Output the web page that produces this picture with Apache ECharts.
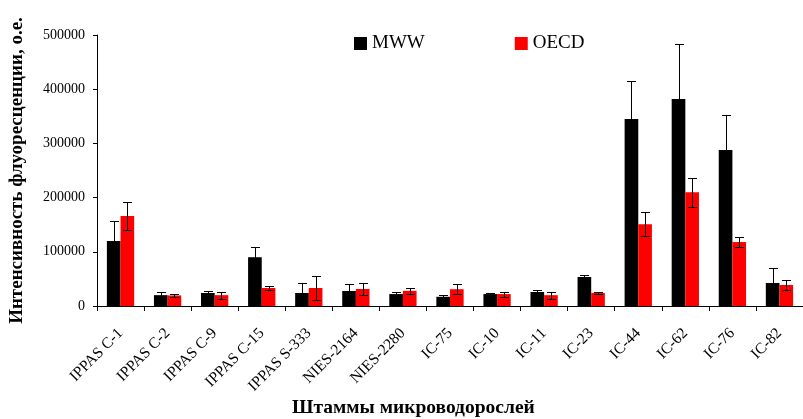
<!DOCTYPE html>
<html>
<head>
<meta charset="utf-8">
<script src="https://cdn.jsdelivr.net/npm/echarts@6/dist/echarts.min.js"></script>
<style>
  html, body { margin: 0; padding: 0; background: #fff; }
  #chart { width: 803px; height: 419px; }
</style>
</head>
<body>
<div id="chart"></div>
<script>
const categories = ['IPPAS C-1','IPPAS C-2','IPPAS C-9','IPPAS C-15','IPPAS S-333','NIES-2164','NIES-2280','IC-75','IC-10','IC-11','IC-23','IC-44','IC-62','IC-76','IC-82'];
const mwwValues = [120000, 20000, 24000, 90000, 24000, 27700, 22000, 17000, 22000, 25800, 53500, 345000, 382000, 288000, 42400];
const mwwErrors = [37000, 6000, 4500, 19000, 18500, 12500, 4000, 2500, 2000, 3000, 4000, 70000, 101000, 64500, 27000];
const oecdValues = [166000, 19500, 20000, 33200, 33200, 31400, 28000, 31000, 22000, 20000, 24000, 151000, 210000, 118000, 38700];
const oecdErrors = [25000, 2500, 6500, 4000, 22000, 11000, 5000, 9000, 4500, 6500, 2500, 22000, 27000, 9000, 10000];
const yTicks = [0, 100000, 200000, 300000, 400000, 500000];

const FONT = "'Liberation Serif', 'Times New Roman', serif";
const CAT_GAP = 0.42;

function errorRenderer(values, errors, side) {
  return function (params, api) {
    const i = api.value(0);
    const v = values[i], e = errors[i];
    const band = api.size([1, 0])[0];
    const barW = band * (1 - CAT_GAP) / 2;
    const c = api.coord([i, v]);
    const x = Math.round(c[0] + side * barW / 2) + 0.5;
    const top = Math.round(api.coord([i, v + e])[1]) + 0.5;
    const bot = Math.round(api.coord([i, v - e])[1]) + 0.5;
    const cap = 4.5;
    const style = { stroke: '#000', lineWidth: 1 };
    return {
      type: 'group',
      children: [
        { type: 'line', shape: { x1: x, y1: top, x2: x, y2: bot }, style },
        { type: 'line', shape: { x1: x - cap, y1: top, x2: x + cap, y2: top }, style },
        { type: 'line', shape: { x1: x - cap, y1: bot, x2: x + cap, y2: bot }, style }
      ]
    };
  };
}

const chart = echarts.init(document.getElementById('chart'));
chart.setOption({
  animation: false,
  backgroundColor: '#ffffff',
  textStyle: { fontFamily: FONT },
  legend: {
    left: 354, top: 34, padding: 0,
    itemWidth: 13, itemHeight: 13, itemGap: 90,
    icon: 'rect',
    data: ['MWW', 'OECD'],
    textStyle: { fontFamily: FONT, fontSize: 19, color: '#000' }
  },
  grid: { left: 97, right: -8, top: 35, bottom: 113, containLabel: false },
  xAxis: {
    type: 'category',
    data: categories,
    axisLine: { lineStyle: { color: '#000', width: 1 } },
    axisTick: { show: true, length: 5, lineStyle: { color: '#000' } },
    axisLabel: { interval: 0, rotate: 45, margin: 25, fontFamily: FONT, fontSize: 15.5, color: '#000' }
  },
  yAxis: {
    type: 'value',
    min: 0, max: 500000, interval: 100000,
    name: 'Интенсивность флуоресценции, о.е.',
    nameLocation: 'middle', nameGap: 70,
    nameTextStyle: { fontFamily: FONT, fontSize: 19, fontWeight: 'bold', color: '#000' },
    axisLine: { show: true, lineStyle: { color: '#000', width: 1 } },
    axisTick: { show: true, inside: false, length: 4, lineStyle: { color: '#000' } },
    splitLine: { show: false },
    axisLabel: { margin: 12, fontFamily: FONT, fontSize: 14, color: '#000',
      formatter: v => yTicks.includes(v) ? String(v) : '' }
  },
  graphic: [{
    type: 'text', left: 292, top: 398,
    style: { text: 'Штаммы микроводорослей', fontFamily: FONT, fontSize: 19.5, fontWeight: 'bold', fill: '#000' }
  }],
  series: [
    { name: 'MWW', type: 'bar', data: mwwValues, barGap: '0%', barCategoryGap: '42%', itemStyle: { color: '#000000' } },
    { name: 'OECD', type: 'bar', data: oecdValues, barGap: '0%', barCategoryGap: '42%', itemStyle: { color: '#ff0000' } },
    { type: 'custom', data: categories.map((c, i) => [i]), renderItem: errorRenderer(mwwValues, mwwErrors, -1), z: 10, silent: true },
    { type: 'custom', data: categories.map((c, i) => [i]), renderItem: errorRenderer(oecdValues, oecdErrors, 1), z: 10, silent: true }
  ]
});
</script>
</body>
</html>
